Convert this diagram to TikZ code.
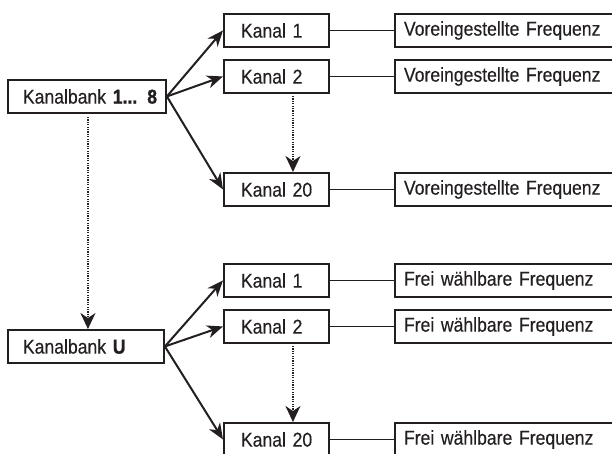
\documentclass[tikz,border=0pt]{standalone}
\usepackage{fontspec}
\setmainfont[FakeStretch=0.88, UprightFeatures={FakeBold=0.25}, BoldFeatures={FakeBold=1.2}]{Liberation Sans}
\usetikzlibrary{arrows.meta}
\definecolor{ink}{HTML}{231F20}
\begin{document}
\begin{tikzpicture}[x=1pt,y=-1pt,
  box/.style={draw=ink, text=ink, line width=1.9pt, minimum height=33pt, inner ysep=0pt, anchor=north west, align=left, font=\fontsize{20}{23}\selectfont},
  bankbox/.style={box, inner xsep=15pt, text width=128pt},
  kanalbox/.style={box, inner xsep=17pt, text width=71pt},
  freqbox/.style={box, inner xsep=9pt, text width=240pt},
  arr/.style={draw=ink, line width=2pt, -{Stealth[length=16pt,width=13pt,inset=5pt]}},
  dotarr/.style={draw=ink, line width=1.8pt, dash pattern=on 1.2pt off 1.2pt, -{Stealth[length=16pt,width=15pt,inset=5pt]}},
  link/.style={draw=ink, line width=1.9pt}]
\useasboundingbox (0,0) rectangle (612,453);
% upper group
\node[bankbox] (kb1) at (7,79) {\mbox{Kanalbank \textbf{1... 8}}};
\node[kanalbox] (k1) at (223,13) {\mbox{Kanal 1}};
\node[kanalbox] (k2) at (223,59) {\mbox{Kanal 2}};
\node[kanalbox] (k20) at (223,172) {\mbox{Kanal 20}};
\node[freqbox] (f1) at (394,13) {\mbox{Voreingestellte Frequenz}};
\node[freqbox] (f2) at (394,59) {\mbox{Voreingestellte Frequenz}};
\node[freqbox] (f20) at (394,172) {\mbox{Voreingestellte Frequenz}};
% lower group
\node[bankbox, text width=126pt] (kbu) at (7,329) {\mbox{Kanalbank \textbf{U}}};
\node[kanalbox] (l1) at (223,263) {\mbox{Kanal 1}};
\node[kanalbox] (l2) at (223,309) {\mbox{Kanal 2}};
\node[kanalbox] (l20) at (223,422) {\mbox{Kanal 20}};
\node[freqbox] (g1) at (394,263) {\mbox{Frei wählbare Frequenz}};
\node[freqbox] (g2) at (394,309) {\mbox{Frei wählbare Frequenz}};
\node[freqbox] (g20) at (394,422) {\mbox{Frei wählbare Frequenz}};
% connectors upper
\draw[arr] (kb1.east) -- (k1.west);
\draw[arr] (kb1.east) -- (k2.west);
\draw[arr] (kb1.east) -- (k20.west);
\draw[link] (k1.east) -- (f1.west);
\draw[link] (k2.east) -- (f2.west);
\draw[link] (k20.east) -- (f20.west);
\coordinate (d1) at ([xshift=16.5pt,yshift=-2pt]k2.south);
\draw[dotarr] (d1) -- (d1 |- k20.north);
% bank to bank
\coordinate (d0) at ([xshift=1pt,yshift=-3pt]kb1.south);
\draw[dotarr] (d0) -- (d0 |- kbu.north);
% connectors lower
\draw[arr] (kbu.east) -- (l1.west);
\draw[arr] (kbu.east) -- (l2.west);
\draw[arr] (kbu.east) -- (l20.west);
\draw[link] (l1.east) -- (g1.west);
\draw[link] (l2.east) -- (g2.west);
\draw[link] (l20.east) -- (g20.west);
\coordinate (d2) at ([xshift=16.5pt,yshift=-2pt]l2.south);
\draw[dotarr] (d2) -- (d2 |- l20.north);
\end{tikzpicture}
\end{document}
